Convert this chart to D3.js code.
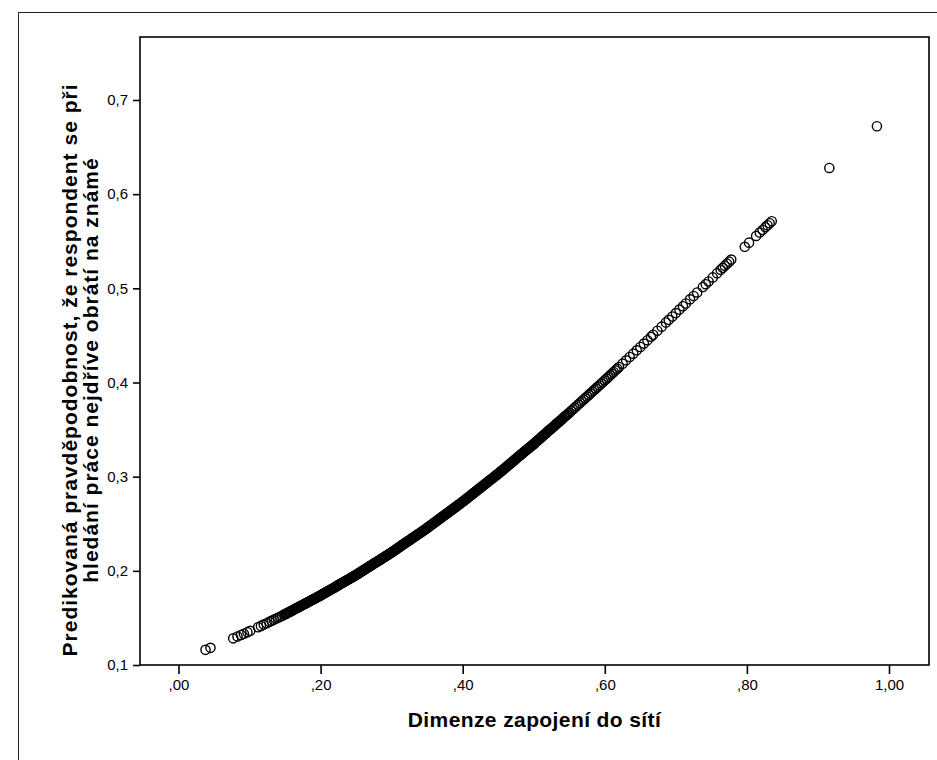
<!DOCTYPE html>
<html>
<head>
<meta charset="utf-8">
<script src="https://cdn.jsdelivr.net/npm/d3@7"></script>
<style>
  body { margin: 0; background: #fff; }
  svg { display: block; font-family: Arial, "Liberation Sans", sans-serif; }
</style>
</head>
<body>
<svg id="chart" width="937" height="760"></svg>
<script>
// Dimenze zapojení do sítí (x) vs predicted probability (y)
const dimenze = [
  0.038, 0.045, 0.077, 0.083, 0.088, 0.092, 0.097, 0.101, 0.112, 0.116,
  0.12, 0.124, 0.128, 0.131, 0.134, 0.137, 0.14, 0.143, 0.146, 0.149,
  0.15, 0.1525, 0.155, 0.1575, 0.16, 0.1625, 0.165, 0.1675, 0.17, 0.1725,
  0.175, 0.1775, 0.18, 0.1825, 0.185, 0.1875, 0.19, 0.1925, 0.195, 0.1975,
  0.2, 0.2025, 0.205, 0.2075, 0.21, 0.2125, 0.215, 0.2175, 0.22, 0.2225,
  0.225, 0.2275, 0.23, 0.2325, 0.235, 0.2375, 0.24, 0.2425, 0.245, 0.2475,
  0.25, 0.2525, 0.255, 0.2575, 0.26, 0.2625, 0.265, 0.2675, 0.27, 0.2725,
  0.275, 0.2775, 0.28, 0.2825, 0.285, 0.2875, 0.29, 0.2925, 0.295, 0.2975,
  0.3, 0.3025, 0.305, 0.3075, 0.31, 0.3125, 0.315, 0.3175, 0.32, 0.3225,
  0.325, 0.3275, 0.33, 0.3325, 0.335, 0.3375, 0.34, 0.3425, 0.345, 0.3475,
  0.35, 0.3525, 0.355, 0.3575, 0.36, 0.3625, 0.365, 0.3675, 0.37, 0.3725,
  0.375, 0.3775, 0.38, 0.3825, 0.385, 0.3875, 0.39, 0.3925, 0.395, 0.3975,
  0.4, 0.4025, 0.405, 0.4075, 0.41, 0.4125, 0.415, 0.4175, 0.42, 0.4225,
  0.425, 0.4275, 0.43, 0.4325, 0.435, 0.4375, 0.44, 0.4425, 0.445, 0.4475,
  0.45, 0.4525, 0.455, 0.4575, 0.46, 0.4625, 0.465, 0.4675, 0.47, 0.4725,
  0.475, 0.4775, 0.48, 0.4825, 0.485, 0.4875, 0.49, 0.4925, 0.495, 0.4975,
  0.5, 0.5025, 0.505, 0.5075, 0.51, 0.5125, 0.515, 0.5175, 0.52, 0.5225,
  0.525, 0.5275, 0.53, 0.5325, 0.535, 0.5375, 0.54, 0.5425, 0.545, 0.5475,
  0.55, 0.555, 0.56, 0.565, 0.57, 0.575, 0.58, 0.585, 0.59, 0.595,
  0.6, 0.605, 0.61, 0.615, 0.62, 0.625, 0.63, 0.635, 0.64, 0.645,
  0.65, 0.655, 0.66, 0.665, 0.668, 0.674, 0.68, 0.686, 0.69, 0.695,
  0.7, 0.705, 0.71, 0.714, 0.72, 0.725, 0.73, 0.738, 0.742, 0.746,
  0.752, 0.758, 0.763, 0.766, 0.769, 0.772, 0.775, 0.778, 0.797, 0.803,
  0.813, 0.818, 0.822, 0.826, 0.829, 0.832, 0.835, 0.916, 0.983
]
const pravdepodobnost = [
  0.1161, 0.1182, 0.1283, 0.1303, 0.1319, 0.1332, 0.1349, 0.1363, 0.1401, 0.1415,
  0.1429, 0.1444, 0.1458, 0.1469, 0.1480, 0.1491, 0.1502, 0.1513, 0.1524, 0.1536,
  0.1539, 0.1549, 0.1559, 0.1569, 0.1579, 0.1589, 0.1599, 0.1609, 0.1619, 0.1629,
  0.1639, 0.1649, 0.1659, 0.1669, 0.1679, 0.1689, 0.1699, 0.1709, 0.1719, 0.1729,
  0.1739, 0.1750, 0.1761, 0.1772, 0.1783, 0.1794, 0.1804, 0.1815, 0.1826, 0.1837,
  0.1848, 0.1859, 0.1870, 0.1881, 0.1892, 0.1903, 0.1913, 0.1924, 0.1935, 0.1946,
  0.1957, 0.1969, 0.1981, 0.1993, 0.2005, 0.2017, 0.2029, 0.2041, 0.2053, 0.2065,
  0.2077, 0.2088, 0.2100, 0.2112, 0.2124, 0.2136, 0.2148, 0.2160, 0.2172, 0.2184,
  0.2196, 0.2209, 0.2222, 0.2235, 0.2248, 0.2261, 0.2274, 0.2287, 0.2300, 0.2313,
  0.2326, 0.2338, 0.2351, 0.2364, 0.2377, 0.2390, 0.2403, 0.2416, 0.2429, 0.2442,
  0.2455, 0.2469, 0.2483, 0.2497, 0.2511, 0.2525, 0.2539, 0.2553, 0.2567, 0.2581,
  0.2595, 0.2608, 0.2622, 0.2636, 0.2650, 0.2664, 0.2678, 0.2692, 0.2706, 0.2720,
  0.2734, 0.2749, 0.2764, 0.2779, 0.2794, 0.2809, 0.2823, 0.2838, 0.2853, 0.2868,
  0.2883, 0.2898, 0.2913, 0.2928, 0.2943, 0.2958, 0.2972, 0.2987, 0.3002, 0.3017,
  0.3032, 0.3048, 0.3064, 0.3079, 0.3095, 0.3111, 0.3127, 0.3143, 0.3158, 0.3174,
  0.3190, 0.3206, 0.3222, 0.3237, 0.3253, 0.3269, 0.3285, 0.3301, 0.3316, 0.3332,
  0.3348, 0.3365, 0.3381, 0.3398, 0.3414, 0.3431, 0.3448, 0.3464, 0.3481, 0.3497,
  0.3514, 0.3530, 0.3547, 0.3564, 0.3580, 0.3597, 0.3613, 0.3630, 0.3646, 0.3663,
  0.3679, 0.3713, 0.3748, 0.3782, 0.3817, 0.3851, 0.3885, 0.3920, 0.3954, 0.3989,
  0.4023, 0.4058, 0.4094, 0.4129, 0.4165, 0.4200, 0.4235, 0.4271, 0.4306, 0.4342,
  0.4377, 0.4413, 0.4449, 0.4485, 0.4507, 0.4550, 0.4593, 0.4637, 0.4665, 0.4701,
  0.4737, 0.4774, 0.4810, 0.4839, 0.4883, 0.4919, 0.4956, 0.5014, 0.5044, 0.5073,
  0.5116, 0.5160, 0.5196, 0.5218, 0.5240, 0.5262, 0.5283, 0.5305, 0.5441, 0.5485,
  0.5556, 0.5592, 0.5620, 0.5649, 0.5670, 0.5691, 0.5713, 0.6278, 0.6721
]

// further respondents filling the dense band (between the values above)
const dimenzeBand = [
  0.15125, 0.15375, 0.15625, 0.15875, 0.16125, 0.16375, 0.16625, 0.16875, 0.17125, 0.17375,
  0.17625, 0.17875, 0.18125, 0.18375, 0.18625, 0.18875, 0.19125, 0.19375, 0.19625, 0.19875,
  0.20125, 0.20375, 0.20625, 0.20875, 0.21125, 0.21375, 0.21625, 0.21875, 0.22125, 0.22375,
  0.22625, 0.22875, 0.23125, 0.23375, 0.23625, 0.23875, 0.24125, 0.24375, 0.24625, 0.24875,
  0.25125, 0.25375, 0.25625, 0.25875, 0.26125, 0.26375, 0.26625, 0.26875, 0.27125, 0.27375,
  0.27625, 0.27875, 0.28125, 0.28375, 0.28625, 0.28875, 0.29125, 0.29375, 0.29625, 0.29875,
  0.30125, 0.30375, 0.30625, 0.30875, 0.31125, 0.31375, 0.31625, 0.31875, 0.32125, 0.32375,
  0.32625, 0.32875, 0.33125, 0.33375, 0.33625, 0.33875, 0.34125, 0.34375, 0.34625, 0.34875,
  0.35125, 0.35375, 0.35625, 0.35875, 0.36125, 0.36375, 0.36625, 0.36875, 0.37125, 0.37375,
  0.37625, 0.37875, 0.38125, 0.38375, 0.38625, 0.38875, 0.39125, 0.39375, 0.39625, 0.39875,
  0.40125, 0.40375, 0.40625, 0.40875, 0.41125, 0.41375, 0.41625, 0.41875, 0.42125, 0.42375,
  0.42625, 0.42875, 0.43125, 0.43375, 0.43625, 0.43875, 0.44125, 0.44375, 0.44625, 0.44875,
  0.45125, 0.45375, 0.45625, 0.45875, 0.46125, 0.46375, 0.46625, 0.46875, 0.47125, 0.47375,
  0.47625, 0.47875, 0.48125, 0.48375, 0.48625, 0.48875, 0.49125, 0.49375, 0.49625, 0.49875,
  0.50125, 0.50375, 0.50625, 0.50875, 0.51125, 0.51375, 0.51625, 0.51875, 0.52125, 0.52375,
  0.52625, 0.52875, 0.53125, 0.53375, 0.53625, 0.53875, 0.54125, 0.54375, 0.54625, 0.54875,
  0.5525, 0.5575, 0.5625, 0.5675, 0.5725, 0.5775, 0.5825, 0.5875, 0.5925, 0.5975,
  0.6025, 0.6075, 0.6125, 0.6175
]
const pravdepodobnostBand = [
  0.1544, 0.1554, 0.1564, 0.1574, 0.1584, 0.1594, 0.1604, 0.1614, 0.1624, 0.1634,
  0.1644, 0.1654, 0.1664, 0.1674, 0.1684, 0.1694, 0.1704, 0.1714, 0.1724, 0.1734,
  0.1745, 0.1756, 0.1767, 0.1777, 0.1788, 0.1799, 0.1810, 0.1821, 0.1832, 0.1843,
  0.1854, 0.1865, 0.1875, 0.1886, 0.1897, 0.1908, 0.1919, 0.1930, 0.1941, 0.1952,
  0.1963, 0.1975, 0.1987, 0.1999, 0.2011, 0.2023, 0.2035, 0.2047, 0.2059, 0.2071,
  0.2083, 0.2094, 0.2106, 0.2118, 0.2130, 0.2142, 0.2154, 0.2166, 0.2178, 0.2190,
  0.2203, 0.2216, 0.2229, 0.2242, 0.2255, 0.2268, 0.2281, 0.2294, 0.2307, 0.2320,
  0.2332, 0.2345, 0.2358, 0.2371, 0.2384, 0.2397, 0.2410, 0.2423, 0.2436, 0.2449,
  0.2462, 0.2476, 0.2490, 0.2504, 0.2518, 0.2532, 0.2546, 0.2560, 0.2574, 0.2588,
  0.2602, 0.2615, 0.2629, 0.2643, 0.2657, 0.2671, 0.2685, 0.2699, 0.2713, 0.2727,
  0.2742, 0.2757, 0.2771, 0.2786, 0.2801, 0.2816, 0.2831, 0.2846, 0.2861, 0.2876,
  0.2890, 0.2905, 0.2920, 0.2935, 0.2950, 0.2965, 0.2980, 0.2995, 0.3010, 0.3025,
  0.3040, 0.3056, 0.3071, 0.3087, 0.3103, 0.3119, 0.3135, 0.3150, 0.3166, 0.3182,
  0.3198, 0.3214, 0.3229, 0.3245, 0.3261, 0.3277, 0.3293, 0.3308, 0.3324, 0.3340,
  0.3356, 0.3373, 0.3390, 0.3406, 0.3423, 0.3439, 0.3456, 0.3472, 0.3489, 0.3505,
  0.3522, 0.3539, 0.3555, 0.3572, 0.3588, 0.3605, 0.3621, 0.3638, 0.3655, 0.3671,
  0.3696, 0.3731, 0.3765, 0.3800, 0.3834, 0.3868, 0.3903, 0.3937, 0.3971, 0.4006,
  0.4041, 0.4076, 0.4112, 0.4147
]

const xTicks = [0, 0.2, 0.4, 0.6, 0.8, 1.0]
const xTickLabels = [',00', ',20', ',40', ',60', ',80', '1,00']
const yTicks = [0.1, 0.2, 0.3, 0.4, 0.5, 0.6, 0.7]
const yTickLabels = ['0,1', '0,2', '0,3', '0,4', '0,5', '0,6', '0,7']

const xTitle = 'Dimenze zapojení do sítí'
const yTitle = [
  'Predikovaná pravděpodobnost, že respondent se při',
  'hledání práce nejdříve obrátí na známé'
]

const box = { left: 140, right: 929, top: 37, bottom: 665 }

const svg = d3.select('#chart')

// outer frame of the output object
svg.append('rect')
  .attr('x', 18.5).attr('y', 12.5)
  .attr('width', 940).attr('height', 780)
  .attr('fill', 'none')
  .attr('stroke', '#222')
  .attr('stroke-width', 1)

const xScale = d3.scaleLinear()
  .domain([(box.left - 178.5) / 710.5, (box.right - 178.5) / 710.5])
  .range([box.left, box.right])

const yScale = d3.scaleLinear()
  .domain([0.1, 0.7 + (100 - box.top) / 942])
  .range([box.bottom, box.top])

// plot frame
svg.append('rect')
  .attr('x', box.left).attr('y', box.top)
  .attr('width', box.right - box.left).attr('height', box.bottom - box.top)
  .attr('fill', 'none')
  .attr('stroke', '#000')
  .attr('stroke-width', 1.6)

const xAxis = d3.axisBottom(xScale)
  .tickValues(xTicks)
  .tickSize(9)
  .tickSizeOuter(0)
  .tickPadding(5)
  .tickFormat((d, i) => xTickLabels[i])

const gx = svg.append('g')
  .attr('transform', `translate(0,${box.bottom})`)
  .call(xAxis)
gx.select('.domain').remove()
gx.selectAll('.tick line').attr('stroke', '#000').attr('stroke-width', 1.6)
gx.selectAll('.tick text')
  .attr('font-size', '15px')
  .attr('font-family', 'Arial, "Liberation Sans", sans-serif')
  .attr('fill', '#000')

const yAxis = d3.axisLeft(yScale)
  .tickValues(yTicks)
  .tickSize(7)
  .tickSizeOuter(0)
  .tickPadding(5)
  .tickFormat((d, i) => yTickLabels[i])

const gy = svg.append('g')
  .attr('transform', `translate(${box.left},0)`)
  .call(yAxis)
gy.select('.domain').remove()
gy.selectAll('.tick line').attr('stroke', '#000').attr('stroke-width', 1.6)
gy.selectAll('.tick text')
  .attr('font-size', '15px')
  .attr('font-family', 'Arial, "Liberation Sans", sans-serif')
  .attr('fill', '#000')

// points
const points = dimenze.map((d, i) => ({ x: d, y: pravdepodobnost[i] }))
  .concat(dimenzeBand.map((d, i) => ({ x: d, y: pravdepodobnostBand[i] })))

svg.append('g')
  .selectAll('circle')
  .data(points)
  .join('circle')
  .attr('cx', d => xScale(d.x))
  .attr('cy', d => yScale(d.y))
  .attr('r', 4.6)
  .attr('fill', 'none')
  .attr('stroke', '#000')
  .attr('stroke-width', 1.4)

// axis titles
svg.append('text')
  .attr('x', (box.left + box.right) / 2)
  .attr('y', 727)
  .attr('text-anchor', 'middle')
  .attr('font-size', '21px')
  .attr('font-weight', 'bold')
  .attr('letter-spacing', '0.4px')
  .text(xTitle)

svg.append('g')
  .attr('transform', 'translate(0,370) rotate(-90)')
  .selectAll('text')
  .data(yTitle)
  .join('text')
  .attr('x', 0)
  .attr('y', (d, i) => 77 + i * 21)
  .attr('text-anchor', 'middle')
  .attr('font-size', '21px')
  .attr('font-weight', 'bold')
  .attr('letter-spacing', '1px')
  .text(d => d)
</script>
</body>
</html>
